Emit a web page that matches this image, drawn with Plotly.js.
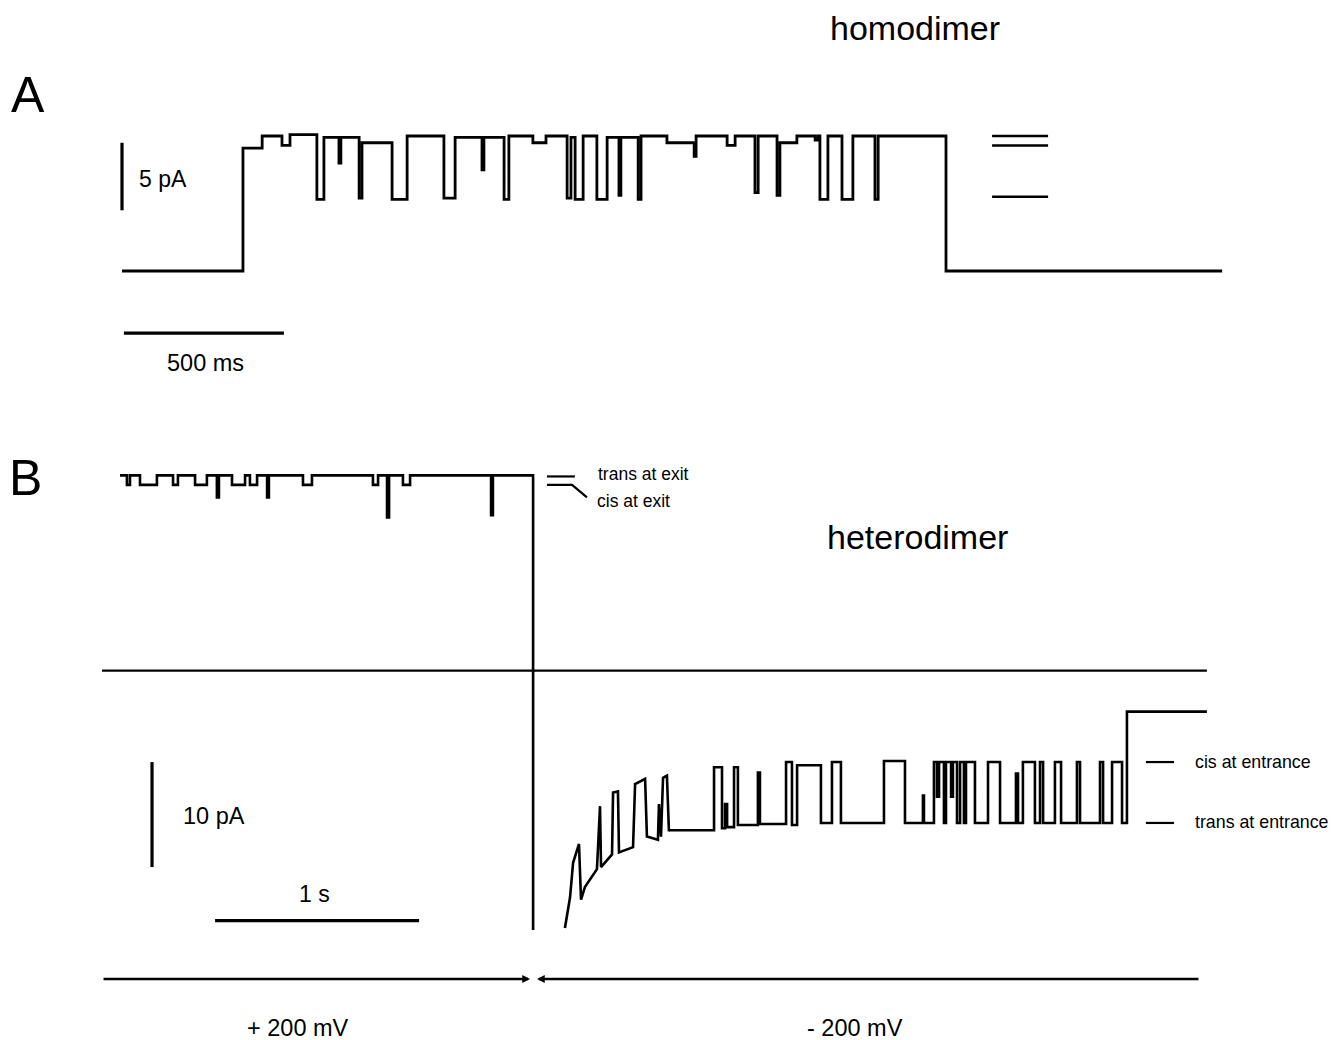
<!DOCTYPE html>
<html>
<head>
<meta charset="utf-8">
<script src="https://cdn.plot.ly/plotly-3.0.1.min.js"></script>
<style>html,body{margin:0;padding:0;background:#fff;}#chart{width:1333px;height:1040px;}</style>
</head>
<body>
<div id="chart"></div>
<script>
// ---------- Panel A: homodimer, single-channel record (time ms, current pA) ----------
const homoTime = [0, 378, 438, 500, 525, 609, 631, 678, 684, 741, 750, 844, 891, 1006, 1041, 1125, 1131, 1194, 1209, 1284, 1325, 1391, 1403, 1416, 1441, 1484, 1516, 1553, 1559, 1613, 1622, 1703, 1788, 1794, 1891, 1916, 1978, 1988, 2047, 2056, 2109, 2166, 2175, 2181, 2206, 2250, 2284, 2353, 2363, 2575, 3438];
const homoCurrent = [0, 9.1, 10.0, 9.3, 10.1, 5.3, 9.9, 8.0, 9.9, 5.4, 9.5, 5.3, 10.0, 5.4, 9.9, 7.5, 9.9, 5.3, 10.0, 9.5, 10.0, 5.4, 9.9, 5.3, 10.0, 5.3, 9.9, 5.6, 9.9, 5.3, 10.0, 9.5, 8.5, 10.0, 9.3, 10.0, 5.8, 10.0, 5.6, 9.5, 10.0, 9.7, 10.0, 5.3, 10.0, 5.3, 10.0, 5.3, 10.0, 0, 0];
const homoLevels = [10.0, 9.3, 5.5];          // level markers at right
const homoLevelSpan = [2719, 2894];

// ---------- Panel B: heterodimer (time ms from record start, current pA) ----------
// +200 mV part
const posTime = [0, 34, 49, 98, 181, 260, 284, 368, 426, 475, 485, 549, 613, 637, 672, 721, 730, 897, 941, 1240, 1265, 1309, 1319, 1387, 1422, 1819, 1828, 2025, 2025];
const posCurrent = [18.6, 17.7, 18.6, 17.7, 18.6, 17.7, 18.6, 17.7, 18.6, 16.5, 18.6, 17.7, 18.6, 17.7, 18.6, 16.5, 18.6, 17.7, 18.6, 17.7, 18.6, 14.6, 18.6, 17.7, 18.6, 14.8, 18.6, 18.6, -24.7];
// -200 mV, relaxation part
const negDecayTime = [2181, 2206, 2221, 2250, 2260, 2279, 2338, 2353, 2358, 2412, 2417, 2441, 2446, 2515, 2525, 2574, 2583, 2637, 2642, 2652, 2662, 2681, 2691];
const negDecayCurrent = [-24.5, -21.6, -18.3, -16.5, -21.8, -20.6, -18.9, -12.9, -18.7, -17.5, -11.6, -11.5, -17.3, -16.8, -10.8, -10.3, -15.8, -16.1, -12.7, -15.8, -10.2, -10.0, -15.3];
// -200 mV, gating part
const negTime = [2691, 2912, 2951, 2966, 2976, 3010, 3029, 3127, 3137, 3265, 3294, 3319, 3436, 3490, 3534, 3745, 3848, 3936, 3941, 3990, 4005, 4015, 4039, 4049, 4074, 4083, 4103, 4118, 4137, 4147, 4191, 4255, 4314, 4392, 4402, 4426, 4485, 4510, 4525, 4583, 4613, 4691, 4706, 4804, 4819, 4863, 4912, 4936, 5328];
const negCurrent = [-15.2, -9.2, -15.0, -12.7, -14.9, -9.2, -14.7, -9.7, -14.6, -8.7, -14.7, -9.0, -14.5, -8.7, -14.5, -8.6, -14.5, -11.9, -14.5, -8.7, -12.0, -8.7, -14.5, -8.7, -12.0, -8.7, -14.5, -8.7, -14.5, -8.7, -14.5, -8.7, -14.5, -9.8, -14.5, -8.7, -14.5, -8.7, -14.5, -8.7, -14.5, -8.7, -14.5, -8.7, -14.5, -8.7, -14.5, -3.9, -3.9];
const exitLevels = [18.5, 17.7];
const entranceLevels = [-8.7, -14.5];
const exitLabels = ["trans at exit", "cis at exit"];
const entranceLabels = ["cis at entrance", "trans at entrance"];
const zeroSpan = [-88, 5328];
// voltage protocol
const protoLabels = ["+ 200 mV", "- 200 mV"];
const protoSpans = [[-88, 2010], [5294, 2044]];   // [tail, head]

const K = '#000';
const FONT = 'Liberation Sans, Arial, Helvetica, sans-serif';

const traces = [
  {x: homoTime, y: homoCurrent, xaxis: 'x', yaxis: 'y', mode: 'lines', line: {shape: 'hv', color: K, width: 2.8}, hoverinfo: 'skip'},
  {x: posTime, y: posCurrent, xaxis: 'x2', yaxis: 'y2', mode: 'lines', line: {shape: 'hv', color: K, width: 2.6}, hoverinfo: 'skip'},
  {x: negDecayTime, y: negDecayCurrent, xaxis: 'x2', yaxis: 'y2', mode: 'lines', line: {shape: 'linear', color: K, width: 2.6}, hoverinfo: 'skip'},
  {x: negTime, y: negCurrent, xaxis: 'x2', yaxis: 'y2', mode: 'lines', line: {shape: 'hv', color: K, width: 2.6}, hoverinfo: 'skip'}
];

const shapes = [];
const line = (xr, yr, x0, y0, x1, y1, w) => shapes.push({type: 'line', xref: xr, yref: yr, x0, y0, x1, y1, line: {color: K, width: w}});
// Panel A level markers
homoLevels.forEach(v => line('x', 'y', homoLevelSpan[0], v, homoLevelSpan[1], v, 2.6));
// Panel A scale bars: 5 pA, 500 ms
line('x', 'y', 0, 4.5, 0, 9.5, 3.2);
line('x', 'y', 6, -4.6, 506, -4.6, 3.2);
// Panel B zero line
line('x2', 'y2', zeroSpan[0], 0, zeroSpan[1], 0, 2.2);
// Panel B exit markers
line('x2', 'y2', 2093, exitLevels[0], 2230, exitLevels[0], 2.2);
shapes.push({type: 'path', xref: 'x2', yref: 'y2', path: `M 2093 ${exitLevels[1]} L 2216 ${exitLevels[1]} L 2289 16.5`, line: {color: K, width: 2.2}});
// Panel B entrance markers
entranceLevels.forEach(v => line('x2', 'y2', 5029, v, 5167, v, 2.2));
// Panel B scale bars: 10 pA, 1 s
line('x2', 'y2', 157, -8.7, 157, -18.7, 3.2);
line('x2', 'y2', 466, -23.8, 1466, -23.8, 3.2);

const ann = [];
const txt = (text, xr, yr, x, y, size, xa) => ann.push({text, xref: xr, yref: yr, x, y, showarrow: false, xanchor: xa || 'center', yanchor: 'middle', font: {size, family: FONT, color: K}});
txt('homodimer', 'paper', 'paper', 915 / 1333, 1 - 28 / 1040, 34);
txt('heterodimer', 'paper', 'paper', 917 / 1333, 1 - 537 / 1040, 34);
txt('A', 'paper', 'paper', 28 / 1333, 1 - 95 / 1040, 50);
txt('B', 'paper', 'paper', 25 / 1333, 1 - 478 / 1040, 50);
txt('5 pA', 'x', 'y', 48, 6.8, 23, 'left');
txt('500 ms', 'x', 'y', 262, -6.8, 23.5);
txt(exitLabels[0], 'x2', 'y2', 2335, 18.7, 17.5, 'left');
txt(exitLabels[1], 'x2', 'y2', 2330, 16.2, 17.5, 'left');
txt(entranceLabels[0], 'x2', 'y2', 5262, entranceLevels[0], 17.8, 'left');
txt(entranceLabels[1], 'x2', 'y2', 5262, entranceLevels[1] + 0.1, 17.8, 'left');
txt('10 pA', 'x2', 'y2', 300, -13.8, 23.5, 'left');
txt('1 s', 'x2', 'y2', 951, -21.3, 23);
txt(protoLabels[0], 'paper', 'paper', 298 / 1333, 1 - 1028 / 1040, 23.5);
txt(protoLabels[1], 'paper', 'paper', 855 / 1333, 1 - 1028 / 1040, 23.5);
protoSpans.forEach(s => ann.push({
  text: '', xref: 'x2', yref: 'paper', x: s[1], y: 1 - 979 / 1040,
  axref: 'x2', ax: s[0], ayref: 'pixel', ay: 0,
  showarrow: true, arrowhead: 2, arrowsize: 0.6, arrowwidth: 2.6, arrowcolor: K, standoff: 0, startstandoff: 0
}));

const ax = r => ({domain: [0, 1], range: r, visible: false, fixedrange: true, showgrid: false, zeroline: false});
const layout = {
  width: 1333, height: 1040,
  margin: {l: 0, r: 0, t: 0, b: 0, pad: 0},
  paper_bgcolor: '#fff', plot_bgcolor: 'rgba(0,0,0,0)',
  showlegend: false,
  font: {family: FONT, color: K},
  xaxis: Object.assign(ax([-381.25, 3784.375]), {anchor: 'y'}),
  yaxis: Object.assign(ax([-56.963, 20.074]), {anchor: 'x'}),
  xaxis2: Object.assign(ax([-588.2, 5946.1]), {anchor: 'y2'}),
  yaxis2: Object.assign(ax([-35.171, 63.876]), {anchor: 'x2'}),
  shapes, annotations: ann
};
Plotly.newPlot('chart', traces, layout, {displayModeBar: false, staticPlot: true});
</script>
</body>
</html>
